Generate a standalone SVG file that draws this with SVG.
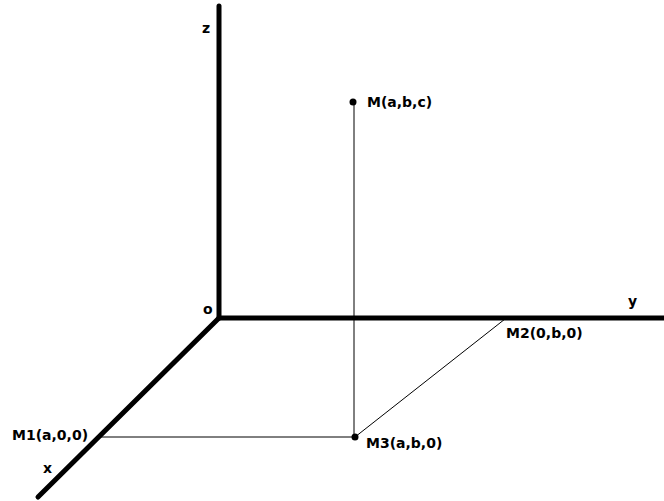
<svg xmlns="http://www.w3.org/2000/svg" width="664" height="501" viewBox="0 0 664 501">
<style>
.axis{stroke:#000;stroke-width:5;stroke-linecap:round;fill:none}
.thin{stroke:#000;stroke-width:1;fill:none}
.lbl{font-family:"DejaVu Sans",Verdana,sans-serif;font-weight:bold;font-size:14px;fill:#000}
.dot{fill:#000}
</style>
<rect width="664" height="501" fill="#fff"/>
<g id="connectors">
<line class="thin" x1="354" y1="102" x2="354" y2="437"/>
<line class="thin" x1="101" y1="437" x2="355" y2="437"/>
<line class="thin" x1="355" y1="437" x2="505" y2="319"/>
</g>
<g id="axes">
<line class="axis" x1="219" y1="6" x2="219" y2="318"/>
<line class="axis" x1="219" y1="318" x2="666" y2="318"/>
<line class="axis" x1="219" y1="318" x2="38" y2="497"/>
</g>
<g id="label-z"><text class="lbl" x="202" y="33">z</text></g>
<g id="label-o"><text class="lbl" x="203" y="314">o</text></g>
<g id="label-y"><text class="lbl" x="628" y="306">y</text></g>
<g id="label-x"><text class="lbl" x="43" y="473">x</text></g>
<g id="node-M"><circle class="dot" cx="353" cy="102" r="3.5"/><text class="lbl" x="367" y="107">M(a,b,c)</text></g>
<g id="node-M1"><text class="lbl" x="12" y="440">M1(a,0,0)</text></g>
<g id="node-M2"><text class="lbl" x="506" y="338">M2(0,b,0)</text></g>
<g id="node-M3"><circle class="dot" cx="355" cy="437" r="3.5"/><text class="lbl" x="366" y="448">M3(a,b,0)</text></g>
</svg>
